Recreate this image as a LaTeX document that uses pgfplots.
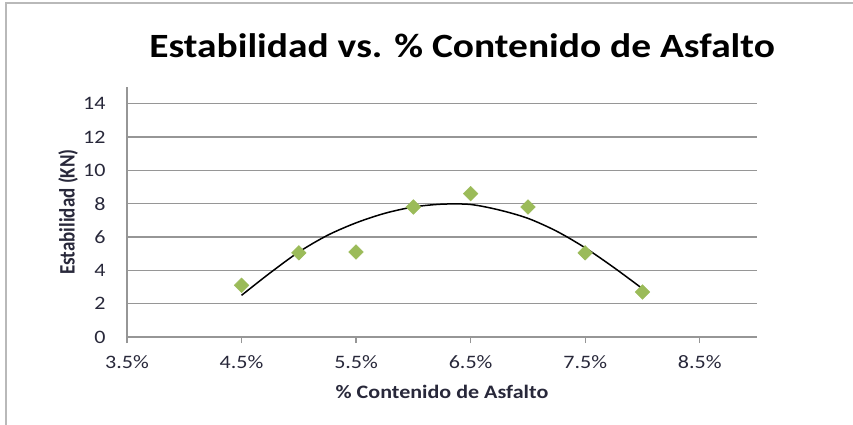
\documentclass[border=0pt]{standalone}
\usepackage{pgfplots}
\pgfplotsset{compat=1.18}
\usepackage{fontspec}
\setmainfont[FakeStretch=1.16]{Carlito}
\newfontfamily\plainfont{Carlito}
\definecolor{gridc}{RGB}{150,150,150}
\definecolor{mk}{RGB}{155,187,89}
\definecolor{tk}{RGB}{40,40,58}
\begin{document}
\begin{tikzpicture}[x=1pt,y=1pt]
\useasboundingbox (-127,-88) rectangle (726,337);
\draw[gray!55, line width=1.6pt] (-121,-90) -- (-121,334) -- (728,334);
\begin{axis}[at={(0,0)}, anchor=south west, scale only axis,
  width=630pt, height=250pt,
  xmin=3.5, xmax=9, ymin=0, ymax=15,
  axis x line*=bottom, axis y line*=left,
  axis line style={-, gridc, line width=1.3pt},
  xtick={3.5,4.5,5.5,6.5,7.5,8.5},
  xticklabels={3.5\%,4.5\%,5.5\%,6.5\%,7.5\%,8.5\%},
  ytick={0,2,4,6,8,10,12,14},
  yticklabels={0,2,4,6,8,10,12,14},
  ymajorgrids, grid style={gridc, line width=1.3pt},
  tick align=outside, major tick length=6pt,
  xtick style={gridc, line width=1.2pt},
  ytick style={draw=none},
  ticklabel style={font=\fontsize{19}{19}\selectfont, text=tk},
  yticklabel style={xshift=-12pt},
  xticklabel style={yshift=-9pt},
  clip=false,
]
\addplot[black, line width=1.5pt, smooth, tension=0.5] coordinates {
(4.5,2.5) (4.75,3.85) (5.0,5.1) (5.25,6.1) (5.5,6.85) (5.75,7.42)
(6.0,7.8) (6.25,7.97) (6.5,7.95) (6.75,7.62) (7.0,7.12) (7.25,6.35)
(7.5,5.35) (7.75,4.17) (8.0,2.9)};
\addplot[only marks, mark=square*, mark size=5.2pt,
  mark options={rotate=45, fill=mk, draw=mk}] coordinates {
(4.5,3.1) (5.0,5.05) (5.5,5.1) (6.0,7.8) (6.5,8.6) (7.0,7.8) (7.5,5.05) (8.0,2.7)};
\end{axis}
\node[font=\fontsize{34}{34}\selectfont\bfseries, text=black] at (335,291) {Estabilidad vs. \% Contenido de Asfalto};
\node[font=\fontsize{19}{19}\selectfont\bfseries, text=tk] at (315,-55) {\% Contenido de Asfalto};
\node[rotate=90, text=tk] at (-59,125) {\scalebox{1}[1.16]{\plainfont\fontsize{19}{19}\selectfont\bfseries Estabilidad (KN)}};
\end{tikzpicture}
\end{document}
